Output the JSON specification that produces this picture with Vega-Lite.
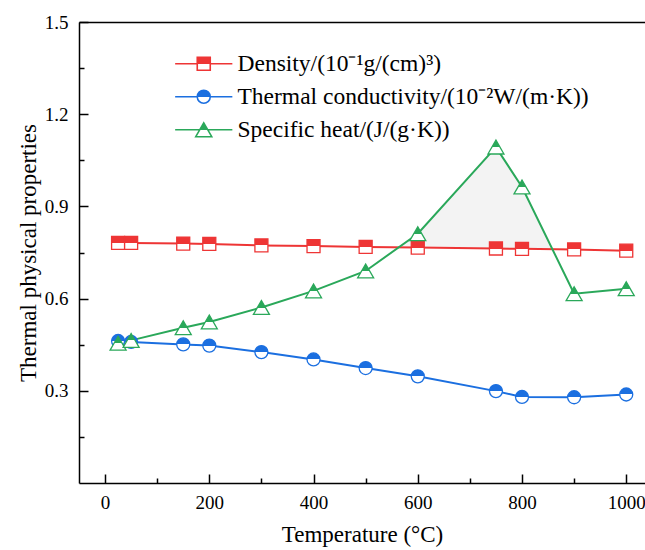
{
  "$schema": "https://vega.github.io/schema/vega-lite/v6.json",
  "width": 566,
  "height": 461,
  "autosize": "none",
  "padding": {"left": 79, "top": 22, "right": 0, "bottom": 67},
  "background": "white",
  "config": {
    "view": {"stroke": null},
    "font": "Liberation Serif",
    "axis": {
      "grid": false,
      "domainColor": "black",
      "tickColor": "black",
      "labelColor": "black",
      "titleColor": "black",
      "labelFont": "Liberation Serif",
      "titleFont": "Liberation Serif",
      "labelFontSize": 19,
      "titleFontSize": 23,
      "titleFontWeight": "normal",
      "domainWidth": 1.5,
      "tickWidth": 1.5
    }
  },
  "datasets": {
    "main": [
      {"T": 25, "value": 0.781, "series": "Density/(10⁻¹g/(cm)³)"},
      {"T": 50, "value": 0.781, "series": "Density/(10⁻¹g/(cm)³)"},
      {"T": 150, "value": 0.779, "series": "Density/(10⁻¹g/(cm)³)"},
      {"T": 200, "value": 0.778, "series": "Density/(10⁻¹g/(cm)³)"},
      {"T": 300, "value": 0.773, "series": "Density/(10⁻¹g/(cm)³)"},
      {"T": 400, "value": 0.771, "series": "Density/(10⁻¹g/(cm)³)"},
      {"T": 500, "value": 0.768, "series": "Density/(10⁻¹g/(cm)³)"},
      {"T": 600, "value": 0.766, "series": "Density/(10⁻¹g/(cm)³)"},
      {"T": 750, "value": 0.763, "series": "Density/(10⁻¹g/(cm)³)"},
      {"T": 800, "value": 0.762, "series": "Density/(10⁻¹g/(cm)³)"},
      {"T": 900, "value": 0.760, "series": "Density/(10⁻¹g/(cm)³)"},
      {"T": 1000, "value": 0.756, "series": "Density/(10⁻¹g/(cm)³)"},
      {"T": 25, "value": 0.462, "series": "Thermal conductivity/(10⁻²W/(m·K))"},
      {"T": 50, "value": 0.459, "series": "Thermal conductivity/(10⁻²W/(m·K))"},
      {"T": 150, "value": 0.451, "series": "Thermal conductivity/(10⁻²W/(m·K))"},
      {"T": 200, "value": 0.447, "series": "Thermal conductivity/(10⁻²W/(m·K))"},
      {"T": 300, "value": 0.426, "series": "Thermal conductivity/(10⁻²W/(m·K))"},
      {"T": 400, "value": 0.402, "series": "Thermal conductivity/(10⁻²W/(m·K))"},
      {"T": 500, "value": 0.374, "series": "Thermal conductivity/(10⁻²W/(m·K))"},
      {"T": 600, "value": 0.347, "series": "Thermal conductivity/(10⁻²W/(m·K))"},
      {"T": 750, "value": 0.299, "series": "Thermal conductivity/(10⁻²W/(m·K))"},
      {"T": 800, "value": 0.280, "series": "Thermal conductivity/(10⁻²W/(m·K))"},
      {"T": 900, "value": 0.279, "series": "Thermal conductivity/(10⁻²W/(m·K))"},
      {"T": 1000, "value": 0.288, "series": "Thermal conductivity/(10⁻²W/(m·K))"},
      {"T": 25, "value": 0.455, "series": "Specific heat/(J/(g·K))"},
      {"T": 50, "value": 0.464, "series": "Specific heat/(J/(g·K))"},
      {"T": 150, "value": 0.505, "series": "Specific heat/(J/(g·K))"},
      {"T": 200, "value": 0.524, "series": "Specific heat/(J/(g·K))"},
      {"T": 300, "value": 0.571, "series": "Specific heat/(J/(g·K))"},
      {"T": 400, "value": 0.625, "series": "Specific heat/(J/(g·K))"},
      {"T": 500, "value": 0.690, "series": "Specific heat/(J/(g·K))"},
      {"T": 600, "value": 0.811, "series": "Specific heat/(J/(g·K))"},
      {"T": 750, "value": 1.093, "series": "Specific heat/(J/(g·K))"},
      {"T": 800, "value": 0.963, "series": "Specific heat/(J/(g·K))"},
      {"T": 900, "value": 0.616, "series": "Specific heat/(J/(g·K))"},
      {"T": 1000, "value": 0.632, "series": "Specific heat/(J/(g·K))"}
    ],
    "shade": [
      {"T": 566, "hi": 0.767, "lo": 0.767},
      {"T": 600, "hi": 0.811, "lo": 0.766},
      {"T": 750, "hi": 1.093, "lo": 0.763},
      {"T": 800, "hi": 0.963, "lo": 0.762},
      {"T": 859, "hi": 0.760, "lo": 0.760}
    ]
  },
  "layer": [
    {
      "data": {"name": "shade"},
      "mark": {"type": "area", "color": "#d0d0d0", "opacity": 0.25},
      "encoding": {
        "x": {"field": "T", "type": "quantitative",
          "scale": {"domain": [-50, 1036], "nice": false, "zero": false},
          "axis": {"orient": "bottom", "values": [0, 200, 400, 600, 800, 1000], "format": "d", "labelFont": "Liberation Serif", "titleFont": "Liberation Serif", "tickSize": -9, "labelPadding": 19, "title": "Temperature (°C)", "titlePadding": 11}},
        "y": {"field": "hi", "type": "quantitative",
          "scale": {"domain": [0, 1.5], "nice": false, "zero": false},
          "axis": {"orient": "left", "values": [0.3, 0.6, 0.9, 1.2, 1.5], "format": ".1f", "labelFont": "Liberation Serif", "titleFont": "Liberation Serif", "tickSize": -9, "labelPadding": 20, "title": "Thermal physical properties", "titlePadding": 4}},
        "y2": {"field": "lo"}
      }
    },
    {
      "data": {"name": "main"},
      "mark": {"type": "line", "strokeWidth": 2},
      "encoding": {
        "x": {"field": "T", "type": "quantitative",
          "scale": {"domain": [-50, 1036], "nice": false, "zero": false},
          "axis": {"orient": "bottom", "values": [100, 300, 500, 700, 900], "tickSize": -5, "labels": false, "domain": false, "title": null}},
        "y": {"field": "value", "type": "quantitative",
          "scale": {"domain": [0, 1.5], "nice": false, "zero": false},
          "axis": {"orient": "left", "values": [0.15, 0.45, 0.75, 1.05, 1.35], "tickSize": -5, "labels": false, "domain": false, "title": null}},
        "stroke": {"field": "series", "type": "nominal",
          "scale": {"domain": ["Density/(10⁻¹g/(cm)³)", "Thermal conductivity/(10⁻²W/(m·K))", "Specific heat/(J/(g·K))"], "range": ["#ee3535", "#1b6fe0", "#2aa85a"]},
          "legend": {
            "orient": "none", "legendX": 113, "legendY": 30, "title": null, "padding": 0,
            "labelFont": "Liberation Serif", "labelFontSize": 23.5, "labelColor": "black", "labelLimit": 500,
            "symbolSize": 169, "labelOffset": 22, "rowPadding": 8,
            "encode": {"symbols": {"update": {
              "shape": {"signal": "indexof(datum.value,'Density')===0 ? 'M-4.4,0H-1M1,0H4.4M-1,-1H1V1H-1Z' : (indexof(datum.value,'Thermal')===0 ? 'M-4.4,0H-1M1,0H4.4M1,0A1,1,0,1,1,-1,0A1,1,0,1,1,1,0Z' : 'M-4.4,0H-0.62M0.62,0H4.4M0,-1.07L1.23,1.07L-1.23,1.07Z')"},
              "fill": {"signal": "{gradient: 'linear', x1: 0, y1: 0, x2: 0, y2: 1, stops: [{offset: 0, color: scale('stroke', datum.value)}, {offset: 0.5, color: scale('stroke', datum.value)}, {offset: 0.5, color: 'white'}, {offset: 1, color: 'white'}]}"},
              "strokeWidth": {"value": 1.6},
              "opacity": {"value": 1},
              "fillOpacity": {"value": 1}
            }}}
          }
        }
      }
    },
    {
      "data": {"name": "main"},
      "transform": [{"filter": "indexof(datum.series,'Density')===0"}],
      "mark": {"type": "point", "shape": "square", "size": 169, "filled": true, "opacity": 1,
        "fill": {"gradient": "linear", "x1": 0, "y1": 0, "x2": 0, "y2": 1, "stops": [{"offset": 0, "color": "#ee3535"}, {"offset": 0.5, "color": "#ee3535"}, {"offset": 0.5, "color": "white"}, {"offset": 1, "color": "white"}]},
        "stroke": "#ee3535", "strokeWidth": 1.3},
      "encoding": {
        "x": {"field": "T", "type": "quantitative",
          "scale": {"domain": [-50, 1036], "nice": false, "zero": false},
          "axis": {"orient": "top", "ticks": false, "labels": false, "domain": true, "title": null}},
        "y": {"field": "value", "type": "quantitative",
          "scale": {"domain": [0, 1.5], "nice": false, "zero": false}, "axis": null}
      }
    },
    {
      "data": {"name": "main"},
      "transform": [{"filter": "indexof(datum.series,'Thermal')===0"}],
      "mark": {"type": "point", "shape": "circle", "size": 169, "filled": true, "opacity": 1,
        "fill": {"gradient": "linear", "x1": 0, "y1": 0, "x2": 0, "y2": 1, "stops": [{"offset": 0, "color": "#1b6fe0"}, {"offset": 0.5, "color": "#1b6fe0"}, {"offset": 0.5, "color": "white"}, {"offset": 1, "color": "white"}]},
        "stroke": "#1b6fe0", "strokeWidth": 1.3},
      "encoding": {
        "x": {"field": "T", "type": "quantitative",
          "scale": {"domain": [-50, 1036], "nice": false, "zero": false}, "axis": null},
        "y": {"field": "value", "type": "quantitative",
          "scale": {"domain": [0, 1.5], "nice": false, "zero": false}, "axis": null}
      }
    },
    {
      "data": {"name": "main"},
      "transform": [{"filter": "indexof(datum.series,'Specific')===0"}],
      "mark": {"type": "point", "shape": "triangle-up", "size": 256, "filled": true, "opacity": 1,
        "fill": {"gradient": "linear", "x1": 0, "y1": 0, "x2": 0, "y2": 1, "stops": [{"offset": 0, "color": "#2aa85a"}, {"offset": 0.5, "color": "#2aa85a"}, {"offset": 0.5, "color": "white"}, {"offset": 1, "color": "white"}]},
        "stroke": "#2aa85a", "strokeWidth": 1.3},
      "encoding": {
        "x": {"field": "T", "type": "quantitative",
          "scale": {"domain": [-50, 1036], "nice": false, "zero": false}, "axis": null},
        "y": {"field": "value", "type": "quantitative",
          "scale": {"domain": [0, 1.5], "nice": false, "zero": false}, "axis": null}
      }
    }
  ],
  "resolve": {"axis": {"x": "independent", "y": "independent"}}
}
